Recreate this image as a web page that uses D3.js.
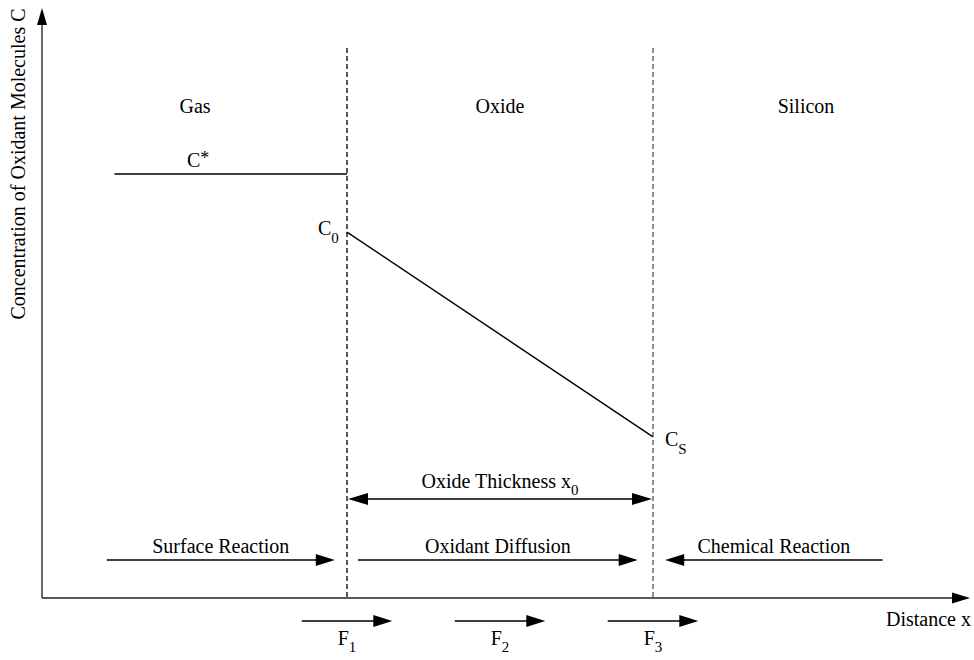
<!DOCTYPE html>
<html>
<head>
<meta charset="utf-8">
<script src="https://cdn.jsdelivr.net/npm/d3@7"></script>
<style>
  html, body { margin: 0; padding: 0; background: #fff; }
  svg text { font-family: "Liberation Serif", "Times New Roman", serif; fill: #000; }
</style>
</head>
<body>
<svg id="chart" width="974" height="660"></svg>
<script>
// Deal-Grove model: oxidant concentration across gas / oxide / silicon.
// Distance is in units of oxide thickness (gas|oxide interface at 0, oxide|silicon at 1).
const regions = ["Gas", "Oxide", "Silicon"];
const regionCenters = [-0.5, 0.5, 1.5];
const interfaces = [0, 1];

// Concentration profile (normalised to C* = 1)
const gasProfile = [{x: -0.76, c: 1.0}, {x: 0, c: 1.0}];
const oxideProfile = [{x: 0, c: 0.863}, {x: 1, c: 0.380}];
const concLabels = [
  {base: "C", sup: "*", sub: "", x: -0.5, c: 1.0},
  {base: "C", sup: "", sub: "0", x: 0, c: 0.863},
  {base: "C", sup: "", sub: "S", x: 1, c: 0.380}
];

// Process arrows (from, to) and their names
const processNames = ["Surface Reaction", "Oxidant Diffusion", "Chemical Reaction"];
const processFrom = [-0.785, 0.036, 1.75];
const processTo = [-0.04, 0.95, 1.04];

// Fluxes F1..F3 centred at the interfaces and mid-oxide
const fluxNames = ["1", "2", "3"];
const fluxCenters = [0, 0.5, 1];
const fluxHalfWidth = 0.148;

const svg = d3.select("#chart");
const x = d3.scaleLinear().domain([-1, 2]).range([41, 959]);
const y = d3.scaleLinear().domain([0, 1]).range([598, 174]);

const ink = "#000";
const fontSize = 20;

function arrowHead(tipX, tipY, dir, len, half, color) {
  // dir: "r", "l", "u"
  let pts;
  if (dir === "r") pts = [[tipX, tipY], [tipX - len, tipY - half], [tipX - len, tipY + half]];
  else if (dir === "l") pts = [[tipX, tipY], [tipX + len, tipY - half], [tipX + len, tipY + half]];
  else pts = [[tipX, tipY], [tipX - half, tipY + len], [tipX + half, tipY + len]];
  svg.append("path").attr("d", d3.line()(pts) + "Z").attr("fill", color || ink);
}

function hArrow(x1, x2, yy, len = 18, half = 6) {
  const dir = x2 > x1 ? "r" : "l";
  const back = dir === "r" ? x2 - len + 1 : x2 + len - 1;
  svg.append("line").attr("x1", x1).attr("x2", back).attr("y1", yy).attr("y2", yy)
    .attr("stroke", ink).attr("stroke-width", 1.4);
  arrowHead(x2, yy, dir, len, half);
}

// Axes
svg.append("line").attr("x1", x(-1) + 1).attr("x2", x(-1) + 1).attr("y1", y(0)).attr("y2", 22)
  .attr("stroke", "#444").attr("stroke-width", 1.6);
arrowHead(x(-1) + 1, 8, "u", 17, 5, "#000");
svg.append("line").attr("x1", x(-1) + 1).attr("x2", 955).attr("y1", y(0)).attr("y2", y(0))
  .attr("stroke", "#222").attr("stroke-width", 1.6);
arrowHead(970, y(0), "r", 18, 5.5, "#000");

svg.append("text").attr("x", 886).attr("y", 626).attr("font-size", fontSize).text("Distance x");
svg.append("text")
  .attr("transform", `translate(25,${164}) rotate(-90)`)
  .attr("text-anchor", "middle").attr("font-size", fontSize)
  .text("Concentration of Oxidant Molecules C");

// Interfaces
svg.selectAll("line.iface").data(interfaces).join("line")
  .attr("class", "iface")
  .attr("x1", d => x(d)).attr("x2", d => x(d))
  .attr("y1", 48).attr("y2", y(0))
  .attr("stroke", (d, i) => i === 0 ? "#000" : "#555")
  .attr("stroke-width", 1.3)
  .attr("stroke-dasharray", "5,3");

// Region names
svg.selectAll("text.region").data(regions).join("text")
  .attr("class", "region")
  .attr("x", (d, i) => x(regionCenters[i]) + (i === 0 ? 1 : 0))
  .attr("y", 113)
  .attr("text-anchor", "middle").attr("font-size", fontSize)
  .text(d => d);

// Concentration profile
const line = d3.line().x(d => x(d.x)).y(d => y(d.c));
[gasProfile, oxideProfile].forEach(p => {
  svg.append("path").attr("d", line(p)).attr("fill", "none")
    .attr("stroke", ink).attr("stroke-width", 1.4);
});

// Concentration labels
const labelOffsets = [[-7, -7], [-29, 3], [12, 9]];
concLabels.forEach((d, i) => {
  const t = svg.append("text")
    .attr("x", x(d.x) + labelOffsets[i][0])
    .attr("y", y(d.c) + labelOffsets[i][1])
    .attr("font-size", fontSize);
  t.append("tspan").text(d.base);
  if (d.sup) t.append("tspan").attr("dy", -3).attr("font-size", 18).text(d.sup);
  if (d.sub) t.append("tspan").attr("dy", 8).attr("font-size", 15).text(d.sub);
});

// Oxide thickness dimension
const thickY = 499;
svg.append("line").attr("x1", x(0) + 18).attr("x2", x(1) - 18).attr("y1", thickY).attr("y2", thickY)
  .attr("stroke", ink).attr("stroke-width", 1.4);
arrowHead(x(0) + 1, thickY, "l", 20, 6);
arrowHead(x(1) - 1, thickY, "r", 20, 6);
const tt = svg.append("text").attr("x", 500).attr("y", 488).attr("text-anchor", "middle").attr("font-size", fontSize);
tt.append("tspan").text("Oxide Thickness x");
tt.append("tspan").attr("dy", 7).attr("font-size", 15).text("0");

// Process arrows with names
const procY = 560;
processNames.forEach((name, i) => {
  hArrow(x(processFrom[i]), x(processTo[i]), procY, 19, 6);
  const mid = (x(processFrom[i]) + x(processTo[i])) / 2;
  svg.append("text").attr("x", mid).attr("y", 553).attr("text-anchor", "middle")
    .attr("font-size", fontSize).text(name);
});

// Flux arrows
const fluxY = 621;
fluxNames.forEach((n, i) => {
  const c = x(fluxCenters[i]);
  const w = fluxHalfWidth * (x(1) - x(0));
  hArrow(c - w, c + w, fluxY, 19, 6);
  const t = svg.append("text").attr("x", c).attr("y", 645).attr("text-anchor", "middle").attr("font-size", fontSize);
  t.append("tspan").text("F");
  t.append("tspan").attr("dy", 7).attr("font-size", 15).text(n);
});
</script>
</body>
</html>
